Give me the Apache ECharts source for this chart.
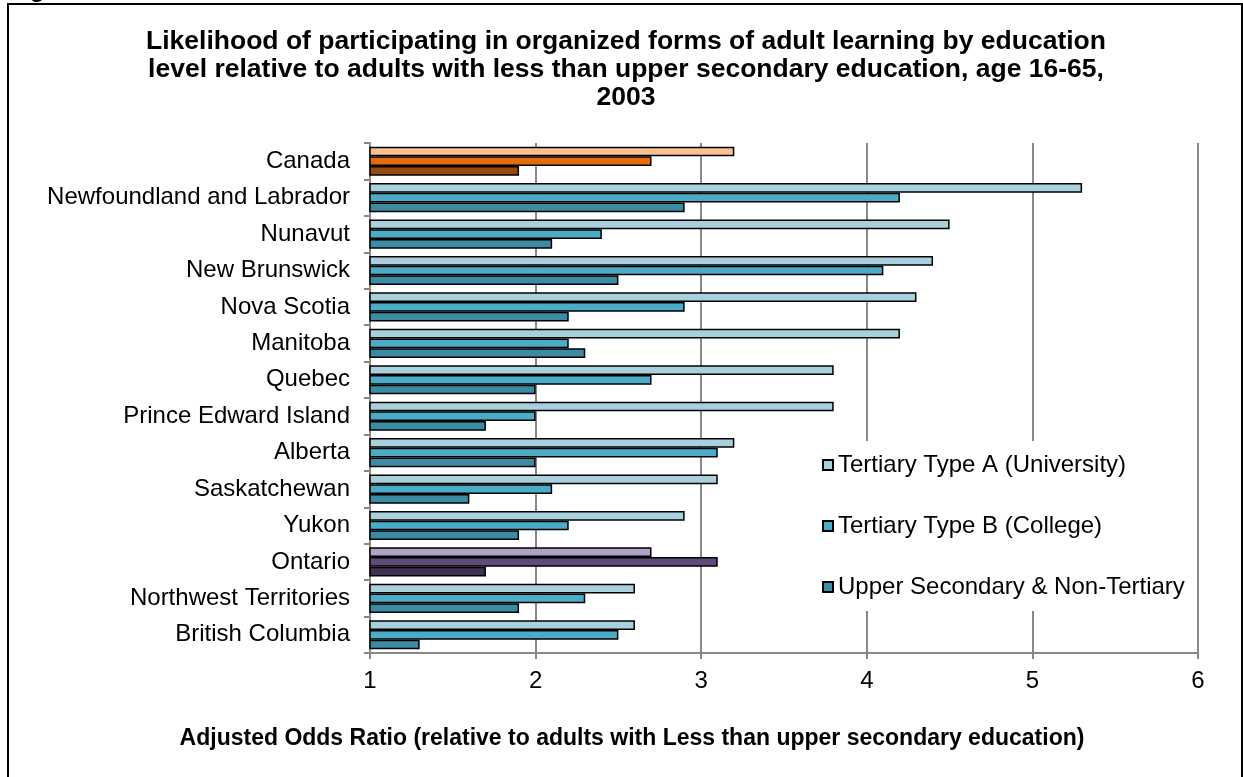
<!DOCTYPE html>
<html>
<head>
<meta charset="utf-8">
<script src="https://cdn.jsdelivr.net/npm/echarts@6/dist/echarts.min.js"></script>
<style>
  html, body { margin: 0; padding: 0; background: #fff; }
  #chart { width: 1243px; height: 777px; }
</style>
</head>
<body>
<div id="chart"></div>
<script>
  // provinces, top to bottom as in the figure
  const categories = ['Canada', 'Newfoundland and Labrador', 'Nunavut', 'New Brunswick', 'Nova Scotia',
    'Manitoba', 'Quebec', 'Prince Edward Island', 'Alberta', 'Saskatchewan', 'Yukon', 'Ontario',
    'Northwest Territories', 'British Columbia']
  const seriesNames = ['Tertiary Type A (University)', 'Tertiary Type B (College)', 'Upper Secondary & Non-Tertiary']
  const universityData = [3.2, 5.3, 4.5, 4.4, 4.3, 4.2, 3.8, 3.8, 3.2, 3.1, 2.9, 2.7, 2.6, 2.6]
  const collegeData = [2.7, 4.2, 2.4, 4.1, 2.9, 2.2, 2.7, 2.0, 3.1, 2.1, 2.2, 3.1, 2.3, 2.5]
  const secondaryData = [1.9, 2.9, 2.1, 2.5, 2.2, 2.3, 2.0, 1.7, 2.0, 1.6, 1.9, 1.7, 1.9, 1.3]
  const xTicks = [1, 2, 3, 4, 5, 6]

  const baseColors = ['#a9d0dd', '#4aacc6', '#3b8ba2']
  // Canada and Ontario get their own palettes
  const highlight = {
    'Canada': ['#fbc190', '#e46c0a', '#984807'],
    'Ontario': ['#b3a2c7', '#604a7b', '#403152']
  }

  const font = 'Liberation Sans, Arial, sans-serif'
  const gray = '#888888'

  function buildData (values, idx) {
    return values.map(function (v, i) {
      let c = highlight[categories[i]]
      if (c) {
        return { value: v, itemStyle: { color: c[idx] } }
      }
      return v
    })
  }

  function makeSeries (name, values, idx) {
    return {
      name: name,
      type: 'bar',
      barGap: '0%',
      barCategoryGap: '20%',
      itemStyle: {
        color: baseColors[idx],
        borderColor: '#000',
        borderWidth: 1.5
      },
      data: buildData(values, idx)
    }
  }

  let myChart = echarts.init(document.getElementById('chart'), null, { renderer: 'canvas' })
  let option = {
    backgroundColor: '#fff',
    animation: false,
    textStyle: { fontFamily: font },
    graphic: [
      {
        type: 'rect',
        shape: { x: 8, y: 4, width: 1234, height: 800 },
        style: { fill: 'none', stroke: '#000', lineWidth: 2 },
        z: 100
      },
      {
        type: 'text',
        x: 30,
        y: -22,
        style: { text: 'g', font: 'bold 24px ' + font, fill: '#000' }
      },
      {
        type: 'text',
        x: 626,
        y: 28,
        style: {
          text: 'Likelihood of participating in organized forms of adult learning by education\n' +
            'level relative to adults with less than upper secondary education, age 16-65,\n2003',
          font: 'bold 26.5px ' + font,
          lineHeight: 28,
          textAlign: 'center',
          fill: '#000'
        }
      },
      {
        type: 'text',
        x: 632,
        y: 727,
        style: {
          text: 'Adjusted Odds Ratio (relative to adults with Less than upper secondary education)',
          font: 'bold 23px ' + font,
          textAlign: 'center',
          fill: '#000'
        }
      }
    ],
    legend: {
      data: seriesNames,
      orient: 'vertical',
      left: 810,
      top: 441,
      padding: [12, 8, 12, 12],
      backgroundColor: '#fff',
      itemWidth: 10,
      itemHeight: 10,
      itemGap: 37,
      icon: 'rect',
      textStyle: { fontSize: 24, lineHeight: 24, color: '#000', fontFamily: font }
    },
    grid: {
      left: 370,
      right: 45,
      top: 143,
      bottom: 124,
      containLabel: false
    },
    xAxis: {
      type: 'value',
      min: xTicks[0],
      max: xTicks[xTicks.length - 1],
      interval: 1,
      axisLine: { show: true, lineStyle: { color: gray, width: 2 } },
      axisTick: { show: true, length: 6, lineStyle: { color: gray, width: 2 } },
      splitLine: { show: true, lineStyle: { color: gray, width: 2 } },
      axisLabel: { fontSize: 24, color: '#000', margin: 16, fontFamily: font }
    },
    yAxis: {
      type: 'category',
      data: categories,
      inverse: true,
      axisLine: { show: true, lineStyle: { color: gray, width: 2 } },
      axisTick: { show: true, length: 6, alignWithLabel: false, lineStyle: { color: gray, width: 2 } },
      splitLine: { show: false },
      axisLabel: { fontSize: 24, color: '#000', margin: 20, fontFamily: font }
    },
    series: [
      makeSeries(seriesNames[0], universityData, 0),
      makeSeries(seriesNames[1], collegeData, 1),
      makeSeries(seriesNames[2], secondaryData, 2)
    ]
  }
  myChart.setOption(option)
</script>
</body>
</html>
